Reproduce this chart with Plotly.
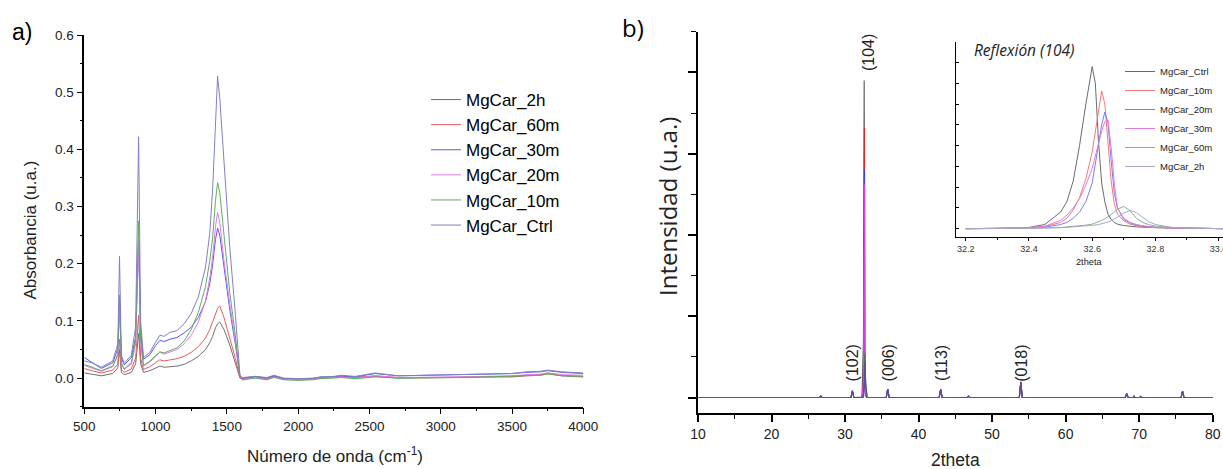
import plotly.graph_objects as go

W, H = 1223, 469
SANS = "Liberation Sans, Arial, sans-serif"
OPEN = "Open Sans, sans-serif"

# ---------------- Panel a) FTIR ----------------
ftir_wavenumber = [500, 550, 620, 700, 735, 747, 760, 780, 830, 860, 881, 895, 915, 960,
                   1000, 1030, 1060, 1100, 1150, 1200, 1250, 1300, 1350, 1380, 1400, 1420,
                   1435, 1450, 1480, 1520, 1560, 1592, 1610, 1700, 1780, 1830, 1900, 2000,
                   2100, 2160, 2250, 2300, 2400, 2540, 2700, 2900, 3100, 3300, 3500, 3600,
                   3700, 3750, 3850, 4000]

ftir_2h = [0.009, 0.007, 0.004, 0.008, 0.018, 0.050, 0.010, 0.006, 0.010, 0.025, 0.078, 0.025,
           0.010, 0.013, 0.017, 0.021, 0.019, 0.020, 0.021, 0.024, 0.030, 0.038, 0.050, 0.062,
           0.073, 0.088, 0.095, 0.098, 0.085, 0.058, 0.028, 0.000,
           -0.001, 0.002, 0.000, 0.003, -0.001, -0.002, -0.001, 0.001, 0.002, 0.003, 0.001,
           0.003, 0.000, 0.000, 0.001, 0.002, 0.002, 0.004, 0.005, 0.008, 0.004, 0.002]
ftir_60m = [0.017, 0.013, 0.009, 0.014, 0.025, 0.068, 0.015, 0.010, 0.016, 0.035, 0.110, 0.035,
            0.015, 0.020, 0.027, 0.032, 0.030, 0.032, 0.034, 0.038, 0.045, 0.055, 0.070, 0.085,
            0.099, 0.114, 0.122, 0.126, 0.106, 0.070, 0.034, 0.000,
            -0.002, 0.001, -0.001, 0.003, -0.001, -0.002, -0.001, 0.001, 0.001, 0.003, 0.001,
            0.004, 0.001, 0.001, 0.002, 0.002, 0.003, 0.005, 0.006, 0.009, 0.005, 0.003]
ftir_30m = [0.036, 0.028, 0.017, 0.027, 0.052, 0.135, 0.036, 0.023, 0.036, 0.072, 0.240, 0.082,
            0.033, 0.041, 0.057, 0.066, 0.064, 0.068, 0.071, 0.079, 0.089, 0.106, 0.134, 0.165,
            0.198, 0.242, 0.262, 0.250, 0.192, 0.120, 0.058, 0.003,
            0.000, 0.003, 0.000, 0.004, -0.001, -0.002, -0.001, 0.002, 0.002, 0.004, 0.002,
            0.008, 0.004, 0.005, 0.006, 0.007, 0.008, 0.010, 0.011, 0.013, 0.010, 0.008]
ftir_20m = [0.022, 0.018, 0.012, 0.020, 0.040, 0.128, 0.025, 0.015, 0.025, 0.060, 0.238, 0.062,
            0.021, 0.028, 0.038, 0.045, 0.042, 0.046, 0.050, 0.060, 0.075, 0.098, 0.135, 0.175,
            0.212, 0.265, 0.290, 0.272, 0.205, 0.130, 0.064, 0.002,
            -0.002, 0.001, -0.002, 0.002, -0.002, -0.003, -0.002, 0.000, 0.001, 0.002, 0.000,
            0.004, 0.001, 0.001, 0.002, 0.003, 0.004, 0.006, 0.007, 0.009, 0.006, 0.005]
ftir_10m = [0.024, 0.019, 0.013, 0.021, 0.042, 0.145, 0.027, 0.016, 0.027, 0.066, 0.275, 0.066,
            0.022, 0.030, 0.040, 0.046, 0.044, 0.048, 0.053, 0.065, 0.085, 0.115, 0.160, 0.205,
            0.245, 0.310, 0.342, 0.325, 0.245, 0.150, 0.074, 0.001,
            -0.003, 0.000, -0.003, 0.001, -0.003, -0.004, -0.003, -0.001, 0.000, 0.001, -0.001,
            0.002, 0.000, 0.000, 0.001, 0.002, 0.003, 0.004, 0.005, 0.007, 0.004, 0.003]
ftir_ctrl = [0.030, 0.027, 0.019, 0.030, 0.060, 0.213, 0.040, 0.026, 0.040, 0.090, 0.422, 0.100,
             0.036, 0.045, 0.063, 0.075, 0.073, 0.080, 0.083, 0.095, 0.113, 0.142, 0.194, 0.253,
             0.330, 0.460, 0.528, 0.490, 0.380, 0.230, 0.110, 0.004,
             0.001, 0.003, 0.001, 0.005, 0.000, -0.001, 0.000, 0.002, 0.003, 0.005, 0.003,
             0.009, 0.004, 0.005, 0.006, 0.007, 0.008, 0.011, 0.012, 0.014, 0.011, 0.009]

ftir_names = ["MgCar_2h", "MgCar_60m", "MgCar_30m", "MgCar_20m", "MgCar_10m", "MgCar_Ctrl"]
ftir_values = [ftir_2h, ftir_60m, ftir_30m, ftir_20m, ftir_10m, ftir_ctrl]
ftir_colors = ["#707070", "#e85a5a", "#5a5ae6", "#e27ae8", "#62ac62", "#8080c4"]

# ---------------- Panel b) XRD ----------------
xrd_2theta = [10.0, 26.5, 26.7, 26.9, 30.8, 31.0, 31.2, 32.3, 32.5, 32.6, 32.63, 32.65, 32.7,
              32.72, 32.8, 33.0, 35.6, 35.8, 36.0, 42.8, 43.0, 43.2, 46.6, 46.8, 47.0, 53.7,
              53.9, 54.1, 68.1, 68.3, 68.5, 69.2, 69.3, 69.4, 70.1, 70.2, 70.3, 75.7, 75.9,
              76.1, 80.0]
xrd_ctrl = [0, 0, 30, 0, 0, 160, 0, 0, 1400, 7800, 5000, 1000, 150, 100, 40, 0, 0, 200, 0,
            0, 195, 0, 0, 30, 0, 0, 375, 0, 0, 95, 0, 0, 38, 0, 0, 22, 0, 0, 150, 0, 0]
xrd_10m = [0, 0, 32, 0, 0, 162, 0, 0, 300, 4000, 6630, 4000, 400, 200, 60, 0, 0, 205, 0,
           0, 198, 0, 0, 32, 0, 0, 380, 0, 0, 97, 0, 0, 40, 0, 0, 24, 0, 0, 152, 0, 0]
xrd_20m = [0, 0, 33, 0, 0, 163, 0, 0, 200, 2700, 4700, 5610, 500, 200, 70, 0, 0, 207, 0,
           0, 199, 0, 0, 33, 0, 0, 382, 0, 0, 98, 0, 0, 40, 0, 0, 24, 0, 0, 154, 0, 0]
xrd_30m = [0, 0, 34, 0, 0, 164, 0, 0, 350, 3000, 4800, 5240, 500, 250, 80, 0, 0, 208, 0,
           0, 200, 0, 0, 34, 0, 0, 384, 0, 0, 99, 0, 0, 41, 0, 0, 25, 0, 0, 155, 0, 0]
xrd_60m = [0, 0, 35, 0, 0, 165, 0, 0, 20, 200, 400, 500, 1070, 900, 300, 0, 0, 210, 0,
           0, 200, 0, 0, 35, 0, 0, 385, 0, 0, 100, 0, 0, 41, 0, 0, 25, 0, 0, 156, 0, 0]
xrd_2h = [0, 0, 35, 0, 0, 165, 0, 0, 10, 150, 250, 350, 750, 880, 400, 0, 0, 210, 0,
          0, 200, 0, 0, 35, 0, 0, 385, 0, 0, 100, 0, 0, 41, 0, 0, 25, 0, 0, 156, 0, 0]

xrd_names = ["MgCar_Ctrl", "MgCar_10m", "MgCar_20m", "MgCar_30m", "MgCar_60m", "MgCar_2h"]
xrd_values = [xrd_ctrl, xrd_10m, xrd_20m, xrd_30m, xrd_60m, xrd_2h]
xrd_colors = ["#555555", "#e02828", "#4040e0", "#e040e0", "#3c7a3c", "#6048a8"]

hkl_labels = ["(102)", "(104)", "(006)", "(113)", "(018)"]
hkl_2theta = [31.0, 33.2, 35.9, 43.05, 53.9]

# Inset: reflection (104)
inset_2theta = [32.2, 32.3, 32.4, 32.45, 32.5, 32.52, 32.54, 32.56, 32.58, 32.6, 32.61, 32.62,
                32.63, 32.64, 32.65, 32.66, 32.67, 32.68, 32.7, 32.72, 32.74, 32.76, 32.78,
                32.8, 32.85, 32.9, 33.0, 33.02]
inset_ctrl = [0, 10, 60, 200, 800, 1300, 2300, 4000, 6000, 7800, 7000, 4200, 2200, 1300, 700,
              450, 300, 220, 150, 110, 90, 70, 55, 45, 30, 20, 5, 0]
inset_10m = [0, 10, 40, 100, 300, 500, 900, 1500, 2400, 3700, 4700, 5800, 6630, 6000, 4000,
             2300, 1200, 700, 380, 220, 150, 100, 70, 50, 30, 20, 5, 0]
inset_20m = [0, 10, 30, 70, 200, 300, 500, 800, 1300, 2200, 3100, 4000, 5000, 5610, 5100,
             3300, 1700, 1000, 450, 280, 180, 130, 90, 65, 40, 25, 5, 0]
inset_30m = [0, 15, 50, 120, 400, 650, 1000, 1450, 2100, 2900, 3500, 4100, 4700, 5150, 5240,
             3900, 2200, 1000, 500, 300, 200, 140, 100, 70, 40, 25, 5, 0]
inset_60m = [0, 5, 15, 30, 60, 80, 100, 130, 170, 220, 270, 330, 400, 480, 570, 680, 800, 940,
             1070, 860, 500, 300, 190, 130, 55, 30, 5, 0]
inset_2h = [0, 5, 12, 25, 45, 60, 80, 100, 130, 160, 180, 200, 230, 270, 320, 390, 460, 550,
            750, 880, 770, 550, 330, 200, 70, 35, 5, 0]

inset_names = ["MgCar_Ctrl", "MgCar_10m", "MgCar_20m", "MgCar_30m", "MgCar_60m", "MgCar_2h"]
inset_values = [inset_ctrl, inset_10m, inset_20m, inset_30m, inset_60m, inset_2h]
inset_colors = ["#6a6a6a", "#f07a7a", "#7a7af0", "#e07ae0", "#8fb08f", "#a8a8cc"]


def fx(p):
    return p / W


def fy(p):
    return 1 - p / H


fig = go.Figure()

for name, vals, col in zip(ftir_names, ftir_values, ftir_colors):
    fig.add_trace(go.Scatter(x=ftir_wavenumber, y=vals, mode="lines", name=name,
                             line=dict(color=col, width=1), xaxis="x", yaxis="y",
                             legend="legend"))

for name, vals, col in zip(xrd_names, xrd_values, xrd_colors):
    fig.add_trace(go.Scatter(x=xrd_2theta, y=vals, mode="lines", name=name,
                             line=dict(color=col, width=1.1), xaxis="x2", yaxis="y2",
                             showlegend=False))

for name, vals, col in zip(inset_names, inset_values, inset_colors):
    fig.add_trace(go.Scatter(x=inset_2theta, y=vals, mode="lines", name=name,
                             line=dict(color=col, width=1), xaxis="x3", yaxis="y3",
                             legend="legend2"))

axis_common = dict(showgrid=False, zeroline=False, showline=True, linecolor="black",
                   ticks="outside", tickcolor="black", automargin=False)

fig.update_layout(
    width=W, height=H,
    margin=dict(l=0, r=0, t=0, b=0, pad=0, autoexpand=False),
    paper_bgcolor="white", plot_bgcolor="rgba(0,0,0,0)",
    xaxis=dict(**axis_common, domain=[fx(84.3), fx(583.3)], range=[500, 4000],
               tick0=500, dtick=500, ticklen=6, tickwidth=1.3, linewidth=1.5,
               tickfont=dict(family=SANS, size=13.5, color="#222"),
               minor=dict(ticks="outside", dtick=250, ticklen=3, tickcolor="black", tickwidth=1),
               anchor="y"),
    yaxis=dict(**axis_common, domain=[fy(406.7), fy(35)], range=[-0.05, 0.6],
               tick0=0, dtick=0.1, tickformat=".1f", ticklen=6, tickwidth=1.3, linewidth=1.5,
               tickfont=dict(family=SANS, size=13.5, color="#222"),
               minor=dict(ticks="outside", dtick=0.05, ticklen=3, tickcolor="black", tickwidth=1),
               anchor="x"),
    xaxis2=dict(**axis_common, domain=[fx(698), fx(1212.7)], range=[10, 80],
                tick0=10, dtick=10, ticklen=7, tickwidth=1.5, linewidth=2,
                tickfont=dict(family=SANS, size=14, color="#222"),
                ticklabeloverflow="allow",
                minor=dict(ticks="outside", dtick=5, ticklen=4, tickcolor="black", tickwidth=1.3),
                anchor="y2"),
    yaxis2=dict(**axis_common, domain=[fy(413), fy(31.7)], range=[-380, 9000],
                tick0=0, dtick=2000, ticklen=8, tickwidth=1.5, linewidth=2,
                showticklabels=False,
                minor=dict(ticks="outside", dtick=1000, ticklen=5, tickcolor="black", tickwidth=1.3),
                anchor="x2"),
    xaxis3=dict(**axis_common, domain=[fx(956), fx(1223)], range=[32.169, 33.014],
                tick0=32.2, dtick=0.2, tickformat=".1f", ticklen=3, tickwidth=1, linewidth=1,
                tickfont=dict(family=SANS, size=9, color="#333"),
                ticklabeloverflow="allow",
                minor=dict(ticks="outside", dtick=0.1, ticklen=2, tickcolor="black", tickwidth=1),
                anchor="y3"),
    yaxis3=dict(showgrid=False, zeroline=False, showline=True, linecolor="black",
                automargin=False,
                domain=[fy(237.3), fy(41.7)], range=[-414, 9000],
                ticks="inside", tickcolor="black", tick0=0, dtick=1000, ticklen=3,
                tickwidth=1, linewidth=1, showticklabels=False, anchor="x3"),
    legend=dict(x=fx(426), y=fy(82), xanchor="left", yanchor="top",
                font=dict(family=SANS, size=17, color="black"),
                bgcolor="rgba(0,0,0,0)", borderwidth=0, tracegroupgap=0),
    legend2=dict(x=fx(1120), y=fy(57), xanchor="left", yanchor="top",
                 font=dict(family=SANS, size=9.5, color="#222"),
                 bgcolor="rgba(0,0,0,0)", borderwidth=0, tracegroupgap=0),
)

ann = []
ann.append(dict(text="a)", x=fx(22), y=fy(32), xref="paper", yref="paper",
                font=dict(family=SANS, size=23, color="black")))
ann.append(dict(text="b)", x=fx(633), y=fy(27), xref="paper", yref="paper",
                font=dict(family=OPEN, size=24, color="black")))
ann.append(dict(text="Absorbancia (u.a.)", x=fx(30.6), y=fy(230), xref="paper", yref="paper",
                textangle=-90, font=dict(family=SANS, size=17, color="#222")))
ann.append(dict(text="Número de onda (cm<sup>-1</sup>)", x=fx(335), y=fy(455),
                xref="paper", yref="paper", font=dict(family=SANS, size=17, color="#222")))
ann.append(dict(text="Intensidad (u.a.)", x=fx(667), y=fy(207), xref="paper", yref="paper",
                textangle=-90, font=dict(family=OPEN, size=24, color="#222")))
ann.append(dict(text="2theta", x=fx(955), y=fy(460), xref="paper", yref="paper",
                font=dict(family=SANS, size=17.5, color="#222")))
ann.append(dict(text="<i>Reflexión (104)</i>", x=fx(1024), y=fy(50), xref="paper", yref="paper",
                font=dict(family=OPEN, size=15.5, color="#222")))
ann.append(dict(text="2theta", x=fx(1089), y=fy(261.5), xref="paper", yref="paper",
                font=dict(family=SANS, size=9.2, color="#222")))

hkl_y = [850, 8490, 850, 850, 850]
for lab, pos, yy in zip(hkl_labels, hkl_2theta, hkl_y):
    ann.append(dict(text=lab, x=pos, y=yy, xref="x2", yref="y2", textangle=-90,
                    font=dict(family=SANS, size=16, color="#222")))

for a in ann:
    a.setdefault("showarrow", False)
    a.setdefault("xanchor", "center")
    a.setdefault("yanchor", "middle")
fig.update_layout(annotations=ann)

# Remove the default page margin so the figure sits at the window's top-left corner.
fig.write_html(
    "out.html",
    config={"displayModeBar": False},
    post_script="document.body.style.margin='0';"
                "document.body.style.overflow='hidden';"
                "document.documentElement.style.overflow='hidden';",
)
